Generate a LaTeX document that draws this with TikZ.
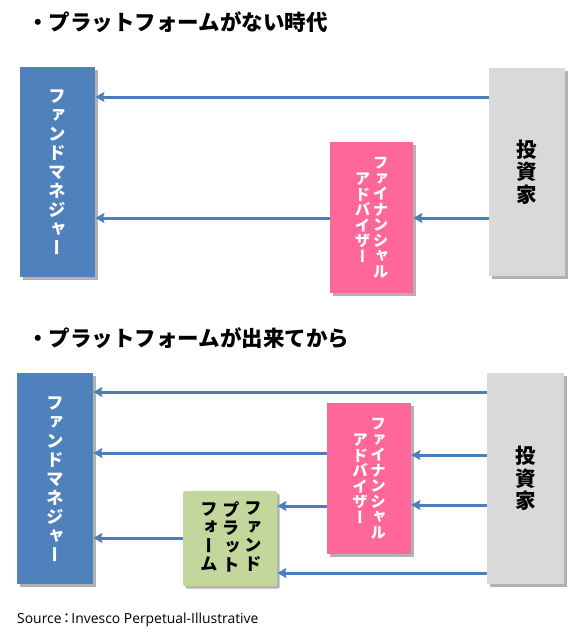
\documentclass[tikz,border=0pt]{standalone}
\usepackage{fontspec}
\setmainfont{Open Sans}
\newfontfamily\jp{Noto Sans CJK JP}
\newfontfamily\vjp{Noto Sans CJK JP}[RawFeature=+vert]
\usetikzlibrary{arrows.meta,shadows}
\definecolor{fmblue}{HTML}{4F81BD}
\definecolor{invgray}{HTML}{D9D9D9}
\definecolor{fapink}{HTML}{FF6699}
\definecolor{pfgreen}{HTML}{C3D69B}
\definecolor{arrowblue}{HTML}{4A7EBB}
\tikzset{
  box/.style={draw=none, anchor=north west, inner sep=0pt,
    drop shadow={shadow xshift=2.5pt, shadow yshift=-2.5pt, fill=black, opacity=0.3}},
  vt/.style={align=center, inner sep=0pt},
  arr/.style={draw=arrowblue, line width=3pt, -{Stealth[length=9pt,width=10pt,inset=1.5pt]}},
  title/.style={anchor=west, inner sep=0pt, font=\jp\bfseries\fontsize{21.5}{21.5}\selectfont},
  fmtext/.style={vt, text=white, font=\vjp\bfseries\fontsize{17.5}{19}\selectfont},
  invtext/.style={vt, text=black, font=\vjp\bfseries\fontsize{20.5}{22.5}\selectfont},
  fatext/.style={vt, text=white, font=\vjp\bfseries\fontsize{15.5}{15.5}\selectfont},
  pftext/.style={vt, text=black, font=\vjp\bfseries\fontsize{17.5}{18.5}\selectfont},
}
\begin{document}
\begin{tikzpicture}[x=1pt,y=-1pt]
\useasboundingbox[fill=white] (0,0) rectangle (585,635);

% ---------- top ----------
\node[title] (t1) at (27,22) {・プラットフォームがない時代};
\node[box, fill=fmblue, minimum width=75pt, minimum height=210pt] (fm1) at (20,67) {};
\node[box, fill=invgray, minimum width=76pt, minimum height=208pt] (inv1) at (489,68) {};
\node[box, fill=fapink, minimum width=83pt, minimum height=151pt] (fa1) at (330,142) {};

\node[fmtext] (fm1t) at (fm1.center) {フ\\ァ\\ン\\ド\\マ\\ネ\\ジ\\ャ\\ー};
\node[invtext] (inv1t) at (inv1.center) {投\\資\\家};
\node[fatext] (fa1a) at ([xshift=9pt]fa1.center) {フ\\ァ\\イ\\ナ\\ン\\シ\\ャ\\ル};
\node[fatext] (fa1b) at ([xshift=-9pt]fa1.center) {ア\\ド\\バ\\イ\\ザ\\ー};

\draw[arr] (inv1.west |- 0,97) -- (fm1.east |- 0,97);
\draw[arr] (fa1.west |- 0,218) -- (fm1.east |- 0,218);
\draw[arr] (inv1.west |- 0,218) -- (fa1.east |- 0,218);

% ---------- bottom ----------
\node[title] (t2) at (27,338) {・プラットフォームが出来てから};
\node[box, fill=fmblue, minimum width=76pt, minimum height=211pt] (fm2) at (17,373) {};
\node[box, fill=invgray, minimum width=77pt, minimum height=211pt] (inv2) at (487,373) {};
\node[box, fill=fapink, minimum width=84pt, minimum height=151pt] (fa2) at (327,403) {};
\node[box, fill=pfgreen, minimum width=94pt, minimum height=95pt, rounded corners=2pt] (pf) at (183,491) {};

\node[fmtext] (fm2t) at (fm2.center) {フ\\ァ\\ン\\ド\\マ\\ネ\\ジ\\ャ\\ー};
\node[invtext] (inv2t) at (inv2.center) {投\\資\\家};
\node[fatext] (fa2a) at ([xshift=9pt]fa2.center) {フ\\ァ\\イ\\ナ\\ン\\シ\\ャ\\ル};
\node[fatext] (fa2b) at ([xshift=-9pt]fa2.center) {ア\\ド\\バ\\イ\\ザ\\ー};
\node[pftext] (pfa) at ([xshift=23pt,yshift=2pt]pf.center) {フ\\ァ\\ン\\ド};
\node[pftext] (pfb) at ([xshift=1pt,yshift=2pt]pf.center) {プ\\ラ\\ッ\\ト};
\node[pftext] (pfc) at ([xshift=-21pt,yshift=2pt]pf.center) {フ\\ォ\\ー\\ム};

\draw[arr] (inv2.west |- 0,392) -- (fm2.east |- 0,392);
\draw[arr] (fa2.west |- 0,453) -- (fm2.east |- 0,453);
\draw[arr] (inv2.west |- 0,455) -- (fa2.east |- 0,455);
\draw[arr] (inv2.west |- 0,505) -- (fa2.east |- 0,505);
\draw[arr] (fa2.west |- 0,506) -- (pf.east |- 0,506);
\draw[arr] (pf.west |- 0,538) -- (fm2.east |- 0,538);
\draw[arr] (inv2.west |- 0,573) -- (pf.east |- 0,573);

\node[anchor=west, inner sep=0pt, font=\fontsize{13.9}{13.9}\selectfont] (src) at (17,620) {Source\hspace{-2pt}{\jp ：}\hspace{-2pt}Invesco Perpetual-Illustrative};
\end{tikzpicture}
\end{document}
